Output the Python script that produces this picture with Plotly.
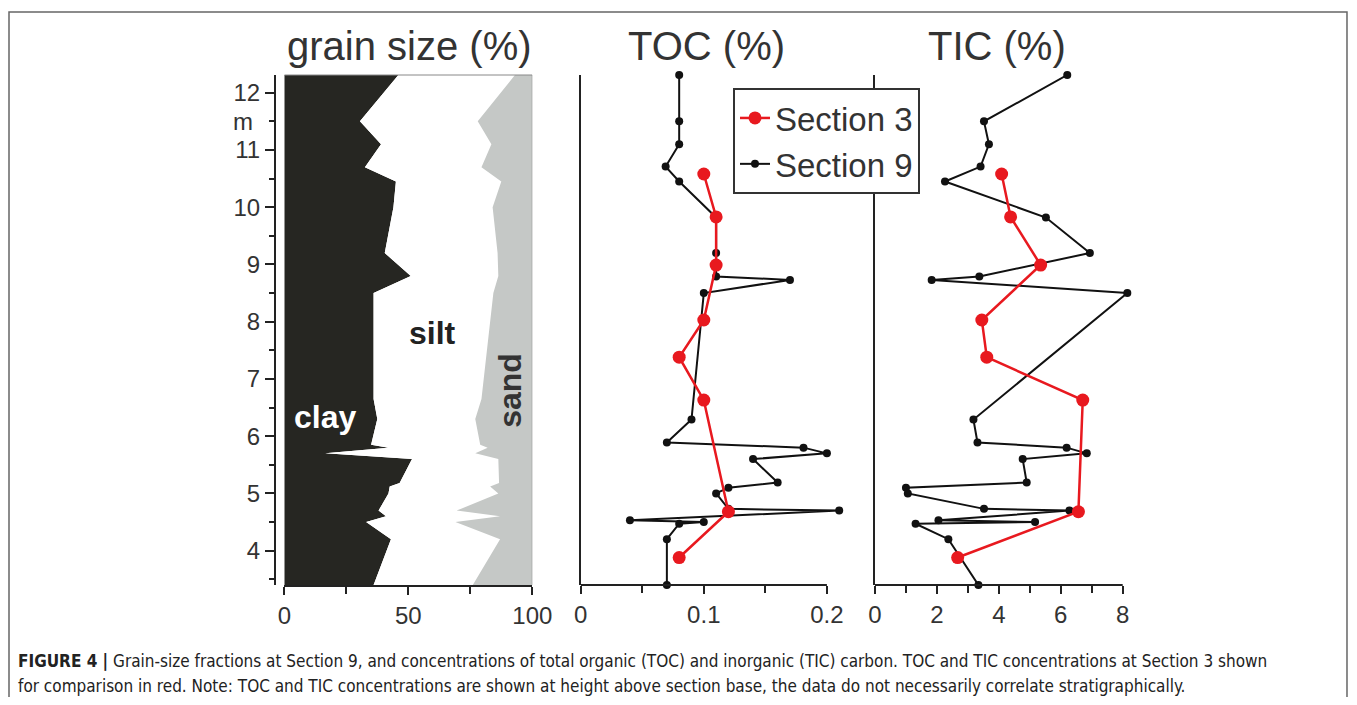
import plotly.graph_objects as go

# ---------------- data ----------------
grain_depth = [12.31, 11.5, 11.1, 10.7, 10.45, 10.0, 9.2, 8.8, 8.5, 7.4, 6.65, 6.3,
               5.85, 5.8, 5.7, 5.6, 5.18, 5.12, 5.0, 4.7, 4.6, 4.5, 4.2, 3.4]
clay = [46, 30.5, 39, 32.5, 45, 44, 40.5, 51, 36, 36, 36, 37.5,
        35, 42, 16.5, 51.5, 46.5, 42.5, 42, 38, 41, 33, 43, 36]
silt = [47, 47.5, 44.5, 47, 42.5, 40, 45.5, 35.3, 48.3, 45.5, 43.5, 39.5,
        44, 40, 60.5, 34.8, 40.1, 40.5, 44.3, 31.5, 46, 36, 44, 40]
sand = [7, 22, 16.5, 20.5, 12.5, 16, 14, 13.7, 15.7, 18.5, 20.5, 23,
        21, 18, 23, 13.7, 13.4, 17, 13.7, 30.5, 13, 31, 13, 24]

s9_depth = [12.31, 11.5, 11.1, 10.71, 10.45, 9.82, 9.2, 8.79, 8.73, 8.5, 6.29, 5.89,
            5.8, 5.7, 5.6, 5.19, 5.1, 5.0, 4.73, 4.7, 4.53, 4.5, 4.47, 4.2, 3.4]
toc9 = [0.080, 0.080, 0.080, 0.069, 0.080, 0.110, 0.110, 0.110, 0.170, 0.100, 0.090, 0.070,
        0.181, 0.200, 0.140, 0.160, 0.120, 0.110, 0.120, 0.210, 0.040, 0.100, 0.080, 0.070, 0.070]
tic9 = [6.21, 3.52, 3.68, 3.41, 2.26, 5.52, 6.94, 3.37, 1.83, 8.15, 3.18, 3.31,
        6.19, 6.84, 4.77, 4.90, 1.00, 1.06, 3.52, 6.28, 2.05, 5.17, 1.31, 2.37, 3.34]

s3_depth = [10.58, 9.83, 8.99, 8.03, 7.38, 6.63, 4.68, 3.88]
toc3 = [0.100, 0.110, 0.110, 0.100, 0.080, 0.100, 0.120, 0.080]
tic3 = [4.09, 4.38, 5.35, 3.45, 3.61, 6.71, 6.57, 2.67]

depth_ticks = [4, 5, 6, 7, 8, 9, 10, 11, 12]
grain_ticks = [0, 50, 100]
toc_ticks = [0, 0.1, 0.2]
toc_ticktext = ["0", "0.1", "0.2"]
tic_ticks = [0, 2, 4, 6, 8]

# ---------------- styles ----------------
OFF = 8                      # page body margin in the browser
W, H = 1357 - 2 * OFF, 705 - 2 * OFF
TOP, BOT = 75 - OFF, 585 - OFF
PH = BOT - TOP
AX = "#222222"
TXT = "#333333"
RED = "#e8191f"
BLK = "#111111"
FONT = "Liberation Sans, Arial, Helvetica, sans-serif"

def px_x(p):
    return (p - OFF) / W

def px_y(p):
    return (BOT - (p - OFF)) / PH

fig = go.Figure()

# legend entries (order: Section 3, Section 9)
fig.add_trace(go.Scatter(x=[None], y=[None], mode="lines+markers", name="Section 3",
                         line=dict(color=RED, width=2.5), marker=dict(size=13, color=RED),
                         xaxis="x2", yaxis="y2"))
fig.add_trace(go.Scatter(x=[None], y=[None], mode="lines+markers", name="Section 9",
                         line=dict(color=BLK, width=2), marker=dict(size=8, color=BLK),
                         xaxis="x2", yaxis="y2"))

# grain size stacked fills
clay_edge = list(clay)
silt_edge = [c + s for c, s in zip(clay, silt)]
sand_edge = [c + s + d for c, s, d in zip(clay, silt, sand)]

fig.add_trace(go.Scatter(x=clay_edge, y=grain_depth, mode="lines", fill="tozerox",
                         fillcolor="#262622", line=dict(width=0, color="#262622"),
                         showlegend=False, hoverinfo="skip", xaxis="x", yaxis="y"))
fig.add_trace(go.Scatter(x=silt_edge, y=grain_depth, mode="lines", fill="tonextx",
                         fillcolor="#ffffff", line=dict(width=0, color="#ffffff"),
                         showlegend=False, hoverinfo="skip", xaxis="x", yaxis="y"))
fig.add_trace(go.Scatter(x=sand_edge, y=grain_depth, mode="lines", fill="tonextx",
                         fillcolor="#c5c8c6", line=dict(width=0, color="#c5c8c6"),
                         showlegend=False, hoverinfo="skip", xaxis="x", yaxis="y"))

# TOC
fig.add_trace(go.Scatter(x=toc9, y=s9_depth, mode="lines+markers", name="Section 9",
                         line=dict(color=BLK, width=2), marker=dict(size=8, color=BLK),
                         cliponaxis=False, showlegend=False, xaxis="x2", yaxis="y2"))
fig.add_trace(go.Scatter(x=toc3, y=s3_depth, mode="lines+markers", name="Section 3",
                         line=dict(color=RED, width=2.5), marker=dict(size=13, color=RED),
                         cliponaxis=False, showlegend=False, xaxis="x2", yaxis="y2"))
# TIC
fig.add_trace(go.Scatter(x=tic9, y=s9_depth, mode="lines+markers", name="Section 9",
                         line=dict(color=BLK, width=2), marker=dict(size=8, color=BLK),
                         cliponaxis=False, showlegend=False, xaxis="x3", yaxis="y3"))
fig.add_trace(go.Scatter(x=tic3, y=s3_depth, mode="lines+markers", name="Section 3",
                         line=dict(color=RED, width=2.5), marker=dict(size=13, color=RED),
                         cliponaxis=False, showlegend=False, xaxis="x3", yaxis="y3"))

yr = [3.40, 12.31]
tickfont = dict(family=FONT, size=24, color=TXT)

x1_dom = [px_x(284.3), px_x(532.3)]
x2_dom = [px_x(580.7), px_x(580.7 + 0.215 * 1231)]
x3_dom = [px_x(875.0), px_x(875.0 + 8.3 * 30.96)]

common_x = dict(showgrid=False, zeroline=False, ticks="outside", ticklen=8, tickwidth=2,
                tickcolor=AX, tickfont=tickfont, automargin=False)

fig.update_layout(
    width=W, height=H, autosize=False,
    margin=dict(l=0, r=0, t=TOP, b=H - BOT, pad=0, autoexpand=False),
    paper_bgcolor="white", plot_bgcolor="rgba(0,0,0,0)",
    font=dict(family=FONT, color=TXT),
    xaxis=dict(domain=x1_dom, range=[0, 100], anchor="y", showline=True, linecolor=AX,
               linewidth=2, tickvals=grain_ticks,
               minor=dict(tickvals=[25, 75], ticklen=7, tickwidth=2, tickcolor=AX, ticks="outside"),
               **common_x),
    yaxis=dict(domain=[0, 1], range=yr, anchor="free", position=px_x(275), showline=True,
               linecolor=AX, linewidth=2, showgrid=False, zeroline=False, ticks="outside",
               ticklen=9, tickwidth=2, tickcolor=AX, tickvals=depth_ticks, tickfont=tickfont,
               automargin=False,
               minor=dict(dtick=0.5, tick0=0, ticklen=5, tickwidth=2, tickcolor=AX, ticks="outside")),
    xaxis2=dict(domain=x2_dom, range=[0, 0.215], anchor="y2", showline=False,
                tickvals=toc_ticks, ticktext=toc_ticktext,
                minor=dict(tickvals=[0.05, 0.15], ticklen=7, tickwidth=2, tickcolor=AX, ticks="outside"),
                **common_x),
    yaxis2=dict(domain=[0, 1], range=yr, anchor="x2", matches="y", showline=True, linecolor=AX,
                linewidth=2, showgrid=False, zeroline=False, ticks="", showticklabels=False,
                automargin=False),
    xaxis3=dict(domain=x3_dom, range=[0, 8.3], anchor="y3", showline=False,
                tickvals=tic_ticks,
                minor=dict(tickvals=[1, 3, 5, 7], ticklen=7, tickwidth=2, tickcolor=AX, ticks="outside"),
                **common_x),
    yaxis3=dict(domain=[0, 1], range=yr, anchor="x3", matches="y", showline=True, linecolor=AX,
                linewidth=2, showgrid=False, zeroline=False, ticks="", showticklabels=False,
                automargin=False),
    legend=dict(x=px_x(733), y=px_y(88), xanchor="left", yanchor="top",
                bgcolor="white", bordercolor="#333333", borderwidth=2,
                font=dict(family=FONT, size=33, color=TXT), tracegroupgap=0,
                itemwidth=30, traceorder="normal"),
    showlegend=True,
)

shapes = []
# axis lines for TOC and TIC (end at last major tick)
shapes.append(dict(type="line", xref="x2", yref="paper", x0=0, x1=0.2, y0=0, y1=0,
                   line=dict(color=AX, width=2)))
shapes.append(dict(type="line", xref="x3", yref="paper", x0=0, x1=8, y0=0, y1=0,
                   line=dict(color=AX, width=2)))
# grain panel thin frame (top and right)
shapes.append(dict(type="line", xref="x", yref="paper", x0=0, x1=100, y0=1, y1=1,
                   line=dict(color="#888888", width=1)))
shapes.append(dict(type="line", xref="x", yref="paper", x0=100, x1=100, y0=0, y1=1,
                   line=dict(color="#888888", width=1)))
# outer figure frame
shapes.append(dict(type="rect", xref="paper", yref="paper", x0=px_x(9), x1=0.9985,
                   y0=px_y(720), y1=px_y(12), line=dict(color="#666666", width=1.5),
                   fillcolor="rgba(0,0,0,0)", layer="below"))
fig.update_layout(shapes=shapes)

ann = []
title_font = dict(family=FONT, size=40, color=TXT)
ann.append(dict(text="grain size (%)", xref="paper", yref="paper", x=px_x(410), y=px_y(46),
                xanchor="center", yanchor="middle", showarrow=False, font=title_font))
ann.append(dict(text="TOC (%)", xref="paper", yref="paper", x=px_x(706), y=px_y(46),
                xanchor="center", yanchor="middle", showarrow=False, font=title_font))
ann.append(dict(text="TIC (%)", xref="paper", yref="paper", x=px_x(997), y=px_y(46),
                xanchor="center", yanchor="middle", showarrow=False, font=title_font))
# fraction labels
ann.append(dict(text="<b>clay</b>", xref="x", yref="y", x=16.4, y=6.34, showarrow=False,
                font=dict(family=FONT, size=32, color="white")))
ann.append(dict(text="<b>silt</b>", xref="x", yref="y", x=59.9, y=7.80, showarrow=False,
                font=dict(family=FONT, size=32, color="#222222")))
ann.append(dict(text="<b>sand</b>", xref="x", yref="y", x=91.0, y=6.81, showarrow=False,
                textangle=-90, font=dict(family=FONT, size=32, color="#333333")))
# unit label on depth axis
ann.append(dict(text="m", xref="paper", yref="y", x=px_x(243), y=11.5, showarrow=False,
                xanchor="center", yanchor="middle", font=dict(family=FONT, size=24, color=TXT)))
# caption
cap_font = dict(family="Liberation Sans Narrow, DejaVu Sans Condensed, Arial Narrow, sans-serif",
                size=17, color="#222222")
ann.append(dict(text="<b>FIGURE 4 |</b> Grain-size fractions at Section 9, and concentrations of total organic (TOC) and inorganic (TIC) carbon. TOC and TIC concentrations at Section 3 shown",
                xref="paper", yref="paper", x=px_x(16), y=px_y(661), xanchor="left",
                yanchor="middle", showarrow=False, font=cap_font))
ann.append(dict(text="for comparison in red. Note: TOC and TIC concentrations are shown at height above section base, the data do not necessarily correlate stratigraphically.",
                xref="paper", yref="paper", x=px_x(16), y=px_y(686), xanchor="left",
                yanchor="middle", showarrow=False, font=cap_font))
fig.update_layout(annotations=ann)

fig.write_html("out.html")
